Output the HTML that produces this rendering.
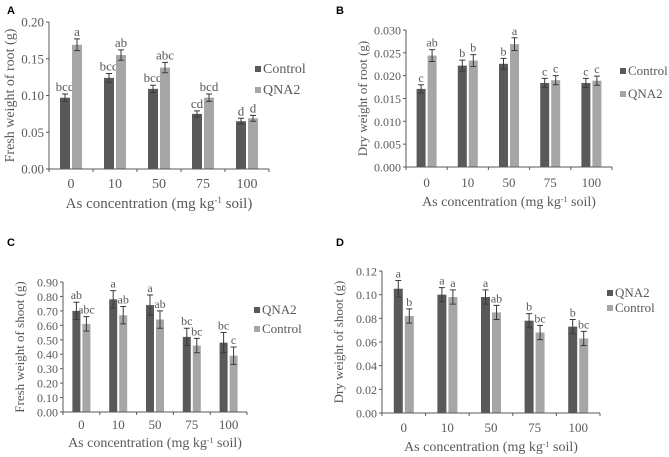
<!DOCTYPE html>
<html><head><meta charset="utf-8"><style>
body{margin:0;background:#fff;width:669px;height:457px;overflow:hidden}
svg{display:block}
text{font-family:"Liberation Serif",serif;fill:#595959}
.lab{font-family:"Liberation Sans",sans-serif;font-weight:bold;fill:#000;font-size:11px}
</style></head><body>
<svg id="fig" width="669" height="457"></svg>
<script>
const categories=["0","10","50","75","100"];
// Panel A
const aControl=[0.097,0.124,0.109,0.075,0.065];
const aControlErr=[0.005,0.006,0.005,0.004,0.004];
const aQNA2=[0.169,0.155,0.138,0.097,0.069];
const aQNA2Err=[0.008,0.007,0.007,0.005,0.004];
const aLetters1=["bcd","bcd","bcd","cd","d"];
const aLetters2=["a","ab","abc","bcd","d"];
const aTicks=["0.00","0.05","0.10","0.15","0.20"];
// Panel B
const bControl=[0.0171,0.0222,0.0226,0.0184,0.0184];
const bControlErr=[0.0009,0.0012,0.0012,0.0010,0.0010];
const bQNA2=[0.0244,0.0233,0.0269,0.0190,0.0189];
const bQNA2Err=[0.0013,0.0013,0.0014,0.0010,0.0010];
const bLetters1=["c","b","b","c","c"];
const bLetters2=["ab","b","a","c","c"];
const bTicks=["0.000","0.005","0.010","0.015","0.020","0.025","0.030"];
// Panel C
const cQNA2=[0.70,0.78,0.74,0.52,0.48];
const cQNA2Err=[0.06,0.06,0.07,0.06,0.07];
const cControl=[0.61,0.67,0.64,0.46,0.39];
const cControlErr=[0.05,0.06,0.06,0.05,0.06];
const cLetters1=["ab","a","a","bc","bc"];
const cLetters2=["abc","ab","ab","bc","c"];
const cTicks=["0.00","0.10","0.20","0.30","0.40","0.50","0.60","0.70","0.80","0.90"];
// Panel D
const dQNA2=[0.105,0.100,0.098,0.078,0.073];
const dQNA2Err=[0.007,0.006,0.006,0.006,0.006];
const dControl=[0.082,0.098,0.085,0.068,0.063];
const dControlErr=[0.006,0.006,0.006,0.006,0.006];
const dLetters1=["a","a","a","b","b"];
const dLetters2=["b","a","ab","bc","bc"];
const dTicks=["0.00","0.02","0.04","0.06","0.08","0.10","0.12"];

const NS="http://www.w3.org/2000/svg";
const svg=document.getElementById('fig');
function el(t,a,p){const e=document.createElementNS(NS,t);for(const k in a)e.setAttribute(k,a[k]);(p||svg).appendChild(e);return e;}

function panel(cfg){
  const g=el('g',{});
  
  
  const max=parseFloat(cfg.ticks[cfg.ticks.length-1]);
  const y=v=>cfg.y0-(v/max)*(cfg.y0-cfg.y1);
  const step=(cfg.xe-cfg.x0)/categories.length;
  const cx=i=>cfg.x0+step*(i+0.5);
  const pl=el('text',{x:cfg.lx,y:cfg.ly,class:'lab'},g);pl.textContent=cfg.id;
  
  cfg.ticks.forEach(t=>{
    const tt=el('text',{x:cfg.x0-5,y:y(parseFloat(t))+4.5,'text-anchor':'end','font-size':cfg.fs},g);tt.textContent=t;
    
    el('line',{x1:cfg.x0-3,x2:cfg.x0,y1:y(parseFloat(t)),y2:y(parseFloat(t)),stroke:'#595959'},g);
  });
  const series=[[cfg.s1,cfg.e1,cfg.l1,'#595959'],[cfg.s2,cfg.e2,cfg.l2,'#a6a6a6']];
  series.forEach((s,si)=>{
    s[0].forEach((v,i)=>{
      const bx=cx(i)+(si===0?-cfg.bw-1:1);
      const r=el('rect',{x:bx,y:y(v),width:cfg.bw,height:cfg.y0-y(v),fill:s[3]},g);
      
      
      const mx=bx+cfg.bw/2,hi=y(v+s[1][i]),lo=y(v-s[1][i]);
      el('path',{d:`M${mx},${hi}V${lo}M${mx-3},${hi}H${mx+3}M${mx-3},${lo}H${mx+3}`,stroke:'#3a3a3a','stroke-width':1,fill:'none'},g);
      const lt=el('text',{x:mx,y:hi-3,'text-anchor':'middle','font-size':cfg.fs},g);lt.textContent=s[2][i];
      
    });
  });
  el('line',{x1:cfg.x0,x2:cfg.x0,y1:cfg.y1,y2:cfg.y0,stroke:'#595959'},g);
  el('line',{x1:cfg.x0,x2:cfg.xe,y1:cfg.y0,y2:cfg.y0,stroke:'#595959'},g);
  for(let i=0;i<=categories.length;i++)el('line',{x1:cfg.x0+step*i,x2:cfg.x0+step*i,y1:cfg.y0,y2:cfg.y0+3,stroke:'#595959'},g);
  categories.forEach((c,i)=>{
    const t=el('text',{x:cx(i),y:cfg.xly,'text-anchor':'middle','font-size':cfg.fs+1},g);t.textContent=c;
    
  });
  const xt=el('text',{x:(cfg.x0+cfg.xe)/2,y:cfg.xty,'text-anchor':'middle','font-size':cfg.fs+2},g);
  xt.innerHTML='As concentration (mg kg<tspan baseline-shift="super" font-size="'+(cfg.fs-4)+'">-1</tspan> soil)';
  
  const yt=el('text',{transform:`translate(${cfg.ytx},${(cfg.y0+cfg.y1)/2}) rotate(-90)`,'text-anchor':'middle','font-size':cfg.fs+1},g);
  yt.textContent=cfg.ytitle;
  
  [[cfg.n1,'#595959'],[cfg.n2,'#a6a6a6']].forEach((L,i)=>{
    const ly=cfg.legY+i*cfg.legGap;
    const lg=el('g',{},g);
    
    
    el('rect',{x:cfg.legX,y:ly-7,width:6,height:6,fill:L[1]},lg);
    const t=el('text',{x:cfg.legX+8,y:ly,'font-size':cfg.fs+1},lg);t.textContent=L[0];
  });
}
panel({id:'A',lx:7,ly:14,x0:49,xe:269,y0:169,y1:22,bw:10,fs:13,ticks:aTicks,s1:aControl,e1:aControlErr,l1:aLetters1,s2:aQNA2,e2:aQNA2Err,l2:aLetters2,n1:'Control',n2:'QNA2',xly:188,xty:208,ytx:14,ytitle:'Fresh weight of root (g)',legX:255,legY:73,legGap:21});
panel({id:'B',lx:336,ly:14,x0:406,xe:612,y0:167,y1:30,bw:9,fs:12,ticks:bTicks,s1:bControl,e1:bControlErr,l1:bLetters1,s2:bQNA2,e2:bQNA2Err,l2:bLetters2,n1:'Control',n2:'QNA2',xly:187,xty:206,ytx:367,ytitle:'Dry weight of root (g)',legX:620,legY:75,legGap:23});
panel({id:'C',lx:7,ly:246,x0:63,xe:247,y0:412,y1:282,bw:8,fs:12,ticks:cTicks,s1:cQNA2,e1:cQNA2Err,l1:cLetters1,s2:cControl,e2:cControlErr,l2:cLetters2,n1:'QNA2',n2:'Control',xly:429,xty:447,ytx:24,ytitle:'Fresh weight of shoot (g)',legX:254,legY:314,legGap:19});
panel({id:'D',lx:336,ly:246,x0:382,xe:600,y0:413,y1:271,bw:9,fs:12,ticks:dTicks,s1:dQNA2,e1:dQNA2Err,l1:dLetters1,s2:dControl,e2:dControlErr,l2:dLetters2,n1:'QNA2',n2:'Control',xly:432,xty:451,ytx:343,ytitle:'Dry weight of shoot (g)',legX:607,legY:297,legGap:15});
</script>
</body></html>
